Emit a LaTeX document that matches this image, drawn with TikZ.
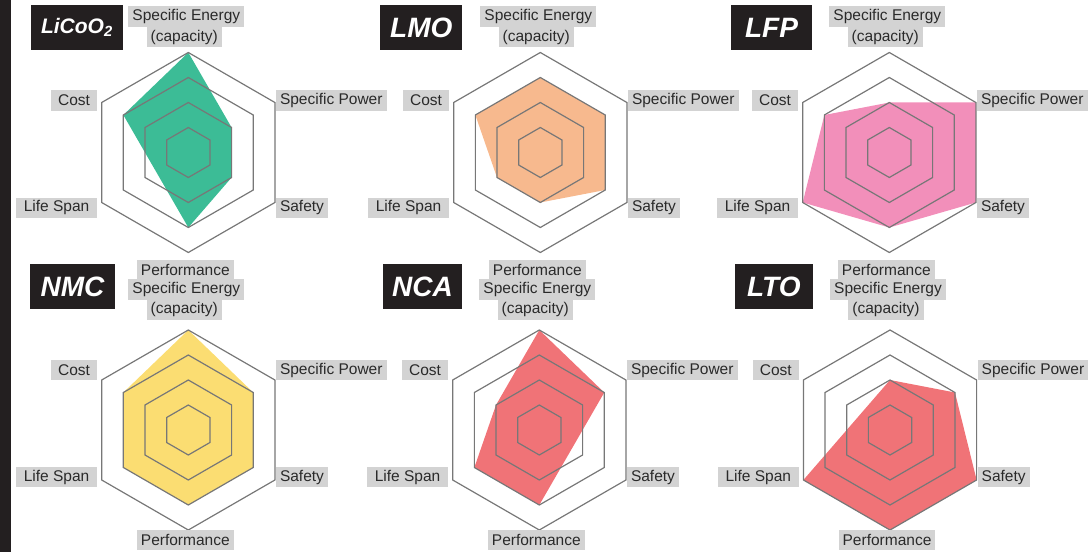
\documentclass[tikz,border=0pt]{standalone}
\usepackage{fontspec}
\setmainfont{Liberation Sans}
\definecolor{ringgray}{HTML}{777777}
\definecolor{lblgray}{HTML}{D3D3D3}
\definecolor{lbltext}{HTML}{2A2A2A}
\definecolor{ttlblack}{HTML}{231F20}
\definecolor{lcogreen}{HTML}{3CBC96}
\definecolor{lmoorange}{HTML}{F7B98E}
\definecolor{lfppink}{HTML}{F28FBA}
\definecolor{nmcyellow}{HTML}{FBDD72}
\definecolor{ncared}{HTML}{F07377}
\begin{document}
\begin{tikzpicture}[
    x=1pt, y=1pt,
    ring/.style={draw=ringgray, line width=1.2pt},
    lbl/.style={fill=lblgray, text=lbltext, inner xsep=4pt, inner ysep=0pt,
                minimum height=20.5pt, font=\fontsize{15.5}{18}\selectfont},
    ttl/.style={fill=ttlblack, text=white, inner sep=0pt, minimum height=45pt,
                font=\fontsize{28}{30}\selectfont\bfseries\itshape}
]
\useasboundingbox (0,0) rectangle (1091,552);

% Dark strip on the left
\fill[ttlblack] (0,0) rectangle (11,552);

% Fills and rings (energy, power, safety, performance, life span, cost)
\foreach \n/\cx/\cy/\col/\e/\p/\s/\f/\l/\c in {
    lco/188.3/399.5/lcogreen/4/2/2/3/1.5/3,
    lmo/540.3/399.5/lmoorange/3/3/3/2/2/3,
    lfp/889.3/399.5/lfppink/2/4/4/3/4/3,
    nmc/188.3/122/nmcyellow/4/3/3/3/3/3,
    nca/539.3/122/ncared/4/3/1.5/3/3/2,
    lto/890/122/ncared/2/3/4/4/4/1.333} {
  \begin{scope}[shift={(\cx,\cy)}]
    \fill[\col] (90:\e*25) -- (30:\p*25) -- (-30:\s*25) -- (-90:\f*25)
                -- (210:\l*25) -- (150:\c*25) -- cycle;
    \foreach \r in {25,50,75,100}
      \draw[ring] (90:\r) -- (30:\r) -- (-30:\r) -- (-90:\r) -- (210:\r) -- (150:\r) -- cycle;
  \end{scope}
}

% Axis labels, top row
\foreach \n/\cx in {lco/188.3, lmo/540.3, lfp/889.3} {
  \node[lbl] (\n-en) at (\cx-2,535.5) {Specific Energy};
  \node[lbl] (\n-cap) at (\cx-4,515) {(capacity)};
  \node[lbl, anchor=west] (\n-pw) at (\cx+87.5,451.5) {Specific Power};
  \node[lbl, anchor=west] (\n-sf) at (\cx+87.5,344.2) {Safety};
  \node[lbl] (\n-pf) at (\cx-3,282) {Performance};
  \node[lbl, anchor=east, minimum width=81pt] (\n-ls) at (\cx-91,344.2) {Life Span};
  \node[lbl, anchor=east, minimum width=46pt] (\n-co) at (\cx-91,451.5) {Cost};
}

% Axis labels, bottom row
\foreach \n/\cx in {nmc/188.3, nca/539.3, lto/890} {
  \node[lbl] (\n-en) at (\cx-2,262.3) {Specific Energy};
  \node[lbl] (\n-cap) at (\cx-4,242.3) {(capacity)};
  \node[lbl, anchor=west] (\n-pw) at (\cx+87.5,182) {Specific Power};
  \node[lbl, anchor=west] (\n-sf) at (\cx+87.5,75) {Safety};
  \node[lbl] (\n-pf) at (\cx-3,12) {Performance};
  \node[lbl, anchor=east, minimum width=81pt] (\n-ls) at (\cx-91,75) {Life Span};
  \node[lbl, anchor=east, minimum width=46pt] (\n-co) at (\cx-91,182) {Cost};
}

% Titles
\node[ttl, minimum width=92pt, font=\fontsize{21}{24}\selectfont\bfseries\itshape]
  (t-lco) at (76.9,524.5) {LiCoO\textsubscript{2}};
\node[ttl, minimum width=82pt] (t-lmo) at (421.3,524.5) {LMO};
\node[ttl, minimum width=81pt] (t-lfp) at (771.5,524.5) {LFP};
\node[ttl, minimum width=85pt] (t-nmc) at (72.5,265.5) {NMC};
\node[ttl, minimum width=79pt] (t-nca) at (422.5,265.5) {NCA};
\node[ttl, minimum width=78pt] (t-lto) at (773.8,265.5) {LTO};

\end{tikzpicture}
\end{document}
